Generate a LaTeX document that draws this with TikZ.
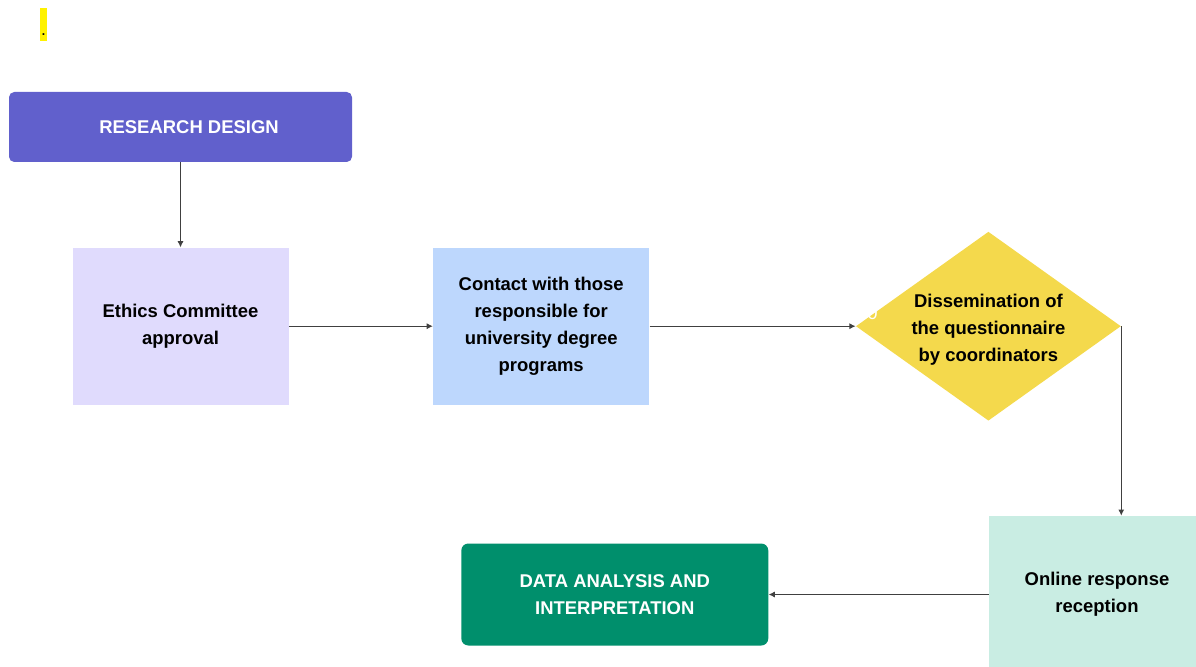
\documentclass[tikz,border=0pt]{standalone}
\usepackage{fontspec}
\setmainfont{Liberation Sans}
\usepackage{xcolor}
\usetikzlibrary{arrows.meta, positioning, shapes.geometric}

\definecolor{designblue}{HTML}{6160CC}
\definecolor{ethicslav}{HTML}{E0DBFD}
\definecolor{contactblue}{HTML}{BDD7FD}
\definecolor{dissemyellow}{HTML}{F4D94C}
\definecolor{onlinemint}{HTML}{C9EDE3}
\definecolor{datagreen}{HTML}{008F6C}

\begin{document}
\begin{tikzpicture}[
  font=\fontsize{10.5}{15.4}\selectfont\bfseries,
  darkbox/.style={
    rectangle, fill=#1, text=white, align=center,
    rounded corners=3pt, inner sep=0pt
  },
  lightbox/.style={
    rectangle, fill=#1, text=black, align=center,
    minimum width=4.32cm, minimum height=3.14cm, inner sep=0pt
  },
  line/.style={draw, -{Latex[length=3.5pt,width=3.5pt]}, line width=0.6pt, color=black!75}
]
  \useasboundingbox (0,0) rectangle (23.92,-13.34);

  \node [fill=yellow, inner sep=0pt, minimum width=0.14cm,
         text height=0.56cm, text depth=0.1cm, font=\normalfont] (mark) at (0.87,-0.49) {.};

  \node [darkbox=designblue, minimum width=6.86cm, minimum height=1.4cm] (design) at (3.61,-2.54) {\hspace*{0.34cm}RESEARCH DESIGN};
  \node [lightbox=ethicslav, below=1.7cm of design] (ethics) {Ethics Committee\\approval};
  \node [lightbox=contactblue, right=2.88cm of ethics] (contact) {Contact with those\\responsible for\\university degree\\programs};
  \node [diamond, fill=dissemyellow, minimum width=5.3cm, minimum height=3.78cm, inner sep=0pt,
         right=4.12cm of contact,
         label={[align=center, yshift=-2pt]center:Dissemination of\\the questionnaire\\by coordinators}] (dissem) {};
  \node [text=white, font=\fontsize{10.5}{12}\selectfont] (zero) at (17.45,-6.27) {0};
  \node [lightbox=onlinemint] (online) at (21.94,-11.89) {Online response\\reception};
  \node [darkbox=datagreen, rounded corners=4pt, minimum width=6.14cm, minimum height=2.04cm,
         left=4.4cm of online] (data) {DATA ANALYSIS AND\\INTERPRETATION};

  \path [line] (design) -- (ethics);
  \path [line] (ethics) -- (contact);
  \path [line] (contact) -- (dissem);
  \path [line] (dissem.east) -- (dissem.east |- online.north);
  \path [line] (online) -- (data);

\end{tikzpicture}
\end{document}
